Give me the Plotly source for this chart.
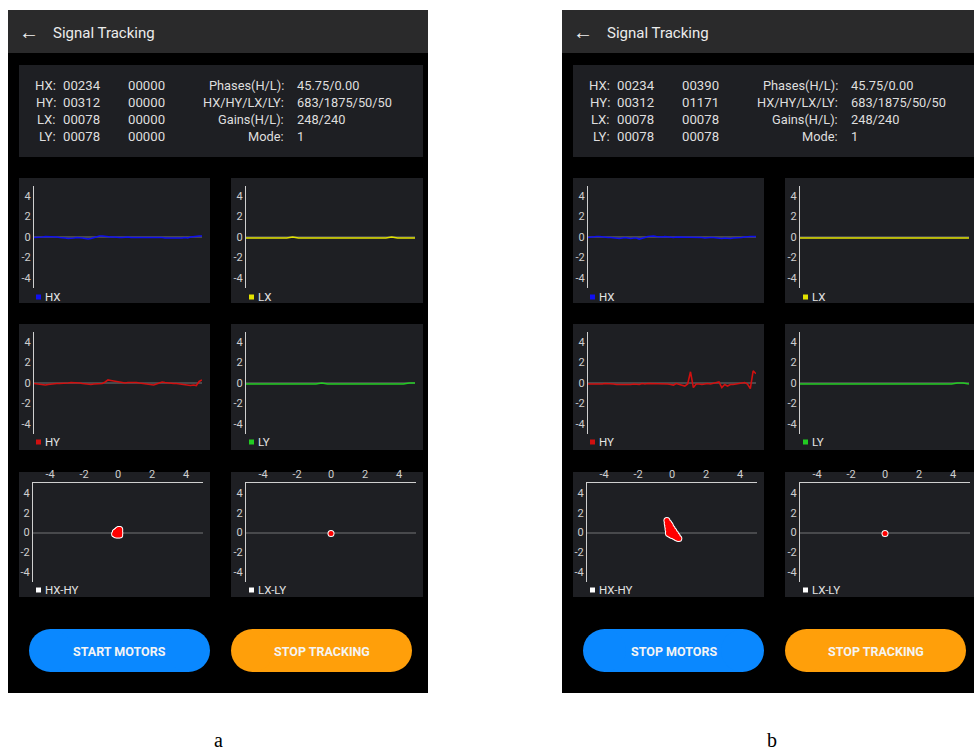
import plotly.graph_objects as go

W, H = 974, 756

# ---- values shown on the two screens ----
row_names = ["HX:", "HY:", "LX:", "LY:"]
raw_a = ["00234", "00312", "00078", "00078"]
filt_a = ["00000", "00000", "00000", "00000"]
raw_b = ["00234", "00312", "00078", "00078"]
filt_b = ["00390", "01171", "00078", "00078"]
param_names = ["Phases(H/L):", "HX/HY/LX/LY:", "Gains(H/L):", "Mode:"]
param_vals = ["45.75/0.00", "683/1875/50/50", "248/240", "1"]

tick_vals = [-4, -2, 0, 2, 4]
tick_text = ["-4", "-2", "0", "2", "4"]

hx_a = [-0.05, -0.05, 0, 0, 0.05, 0.05, 0, 0, 0, -0.05,
        -0.05, -0.1, -0.15, -0.15, -0.1, -0.05, -0.05, -0.1, -0.15, -0.2,
        -0.15, -0.05, 0.05, 0.1, 0.1, 0.05, 0.05, 0, 0, -0.05,
        -0.05, -0.05, 0, 0, -0.05, -0.05, -0.05, 0, 0, -0.05,
        -0.05, -0.05, -0.05, -0.05, -0.05, -0.05, -0.1, -0.1, -0.15, -0.15,
        -0.1, -0.15, -0.1, -0.05, -0.1, 0, 0.05, 0.1, 0.1, 0.1]
hy_a = [-0.05, -0.1, -0.1, -0.15, -0.2, -0.15, -0.1, -0.05, -0.05, -0.05,
        -0.05, -0.05, 0, 0.05, 0.05, 0.05, 0, -0.05, -0.1, -0.15,
        -0.15, -0.1, -0.1, -0.05, -0.05, 0.1, 0.3, 0.25, 0.2, 0.15,
        0.1, 0.05, 0, 0.05, 0.05, 0.1, 0.05, 0, -0.05, -0.05,
        -0.1, -0.15, -0.2, -0.1, 0, 0.1, 0.05, 0, -0.05, -0.05,
        -0.05, -0.1, -0.15, -0.2, -0.25, -0.25, -0.2, -0.25, 0.15, 0.3]
lx_a = [-0.1, -0.1, -0.1, -0.1, -0.1, -0.1, -0.1, -0.1, 0.0, -0.1,
        -0.1, -0.1, -0.1, -0.1, -0.1, -0.1, -0.1, -0.1, -0.1, -0.1,
        -0.1, -0.1, -0.1, -0.1, -0.1, 0.0, -0.1, -0.1, -0.1, -0.1]
ly_a = [-0.1, -0.1, -0.1, -0.1, -0.1, -0.1, -0.1, -0.1, -0.1, -0.1,
        -0.1, -0.1, -0.1, 0.0, -0.1, -0.1, -0.1, -0.1, -0.1, -0.1,
        -0.1, -0.1, -0.1, -0.1, -0.1, -0.1, -0.1, -0.1, 0.0, 0.0]

hx_b = [-0.05, 0, 0, 0.05, 0.05, 0, 0, -0.05, -0.05, -0.1,
        -0.1, -0.15, -0.1, -0.05, -0.1, -0.15, -0.1, -0.1, -0.2, -0.15,
        -0.05, 0.05, 0.1, 0.1, 0.05, 0, 0, 0.05, 0, -0.05,
        -0.05, 0, 0, -0.05, -0.05, 0, -0.05, -0.05, 0, -0.05,
        -0.05, -0.1, -0.05, -0.05, -0.05, -0.1, -0.1, -0.15, -0.1, -0.15,
        -0.15, -0.1, -0.1, -0.05, -0.05, 0, 0.05, 0.05, 0.05, 0.05]
hy_b = [-0.1, -0.1, -0.1, -0.15, -0.1, -0.1, -0.05, -0.05, -0.1, -0.1,
        -0.15, -0.15, -0.2, -0.2, -0.15, -0.15, -0.1, -0.1, -0.15, -0.05,
        -0.1, -0.05, -0.05, -0.1, -0.05, -0.1, -0.05, -0.1, -0.1, -0.15,
        -0.2, -0.05, -0.15, -0.2, -0.3, -0.1, 1.1, -0.45, -0.1, -0.1,
        -0.15, -0.1, -0.05, -0.1, -0.05, 0.05, 0.1, -0.45, -0.15, -0.3,
        -0.15, -0.15, -0.1, -0.05, 0.0, 0.05, -0.1, -0.55, 1.2, 0.9]
lx_b = [-0.1, -0.1, -0.1, -0.1, -0.1, -0.1, -0.1, -0.1, -0.1, -0.1,
        -0.1, -0.1, -0.1, -0.1, -0.1, -0.1, -0.1, -0.1, -0.1, -0.1,
        -0.1, -0.1, -0.1, -0.1, -0.1, -0.1, -0.1, -0.1, -0.1, -0.1]
ly_b = [-0.1, -0.1, -0.1, -0.1, -0.1, -0.1, -0.1, -0.1, -0.1, -0.1,
        -0.1, -0.1, -0.1, -0.1, -0.1, -0.1, -0.1, -0.1, -0.1, -0.1,
        -0.1, -0.1, -0.1, -0.1, -0.1, -0.1, -0.1, 0.0, 0.0, -0.1]

# HX-HY scatter of screen b (the smeared cluster)
sx_b = [-0.3, -0.2, -0.1, 0.0, 0.1, 0.2, 0.3, 0.4, -0.28, -0.25, -0.23, -0.2, -0.2,
        -0.1, 0.0, 0.1, 0.2, 0.3, -0.15, -0.1, 0.0, 0.1, -0.05, 0.2, -0.15]
sy_b = [1.2, 0.95, 0.7, 0.4, 0.15, -0.1, -0.35, -0.6, 0.9, 0.6, 0.3, 0.0, -0.1,
        -0.2, -0.3, -0.35, -0.45, -0.55, 0.5, 0.2, 0.0, -0.1, -0.1, -0.3, 0.8]
lxly_x = [0.0]
lxly_y = [-0.1]

screens = [
    dict(off=0, raw=raw_a, filt=filt_a, hx=hx_a, hy=hy_a, lx=lx_a, ly=ly_a,
         sx=hx_a, sy=hy_a, motors="START MOTORS", tag="a"),
    dict(off=554, raw=raw_b, filt=filt_b, hx=hx_b, hy=hy_b, lx=lx_b, ly=ly_b,
         sx=sx_b, sy=sy_b, motors="STOP MOTORS", tag="b"),
]

FONT = "Roboto"
TXT = "#dedede"
PANEL = "#1e1f23"


def px(x):
    return x / W


def py(y):
    return 1 - y / H


fig = go.Figure()
shapes = []
annotations = []


def rect(x0, y0, x1, y1, color):
    shapes.append(dict(type="rect", xref="paper", yref="paper", layer="below",
                       x0=px(x0), x1=px(x1), y0=py(y1), y1=py(y0),
                       fillcolor=color, line=dict(width=0)))


def pill(x0, y0, x1, y1, color):
    r = (y1 - y0) / 2
    rect(x0 + r, y0, x1 - r, y1, color)
    for cx0 in (x0, x1 - 2 * r):
        shapes.append(dict(type="circle", xref="paper", yref="paper", layer="below",
                           x0=px(cx0), x1=px(cx0 + 2 * r), y0=py(y1), y1=py(y0),
                           fillcolor=color, line=dict(width=0)))


def text(x, y, s, size=12.8, color=TXT, anchor="left", family=FONT):
    annotations.append(dict(xref="paper", yref="paper", x=px(x), y=py(y), text=s,
                            showarrow=False, xanchor=anchor, yanchor="middle",
                            font=dict(family=family, size=size, color=color)))


k = 0
layout_axes = {}


def add_axes(xdom, ydom, scatter):
    global k
    k += 1
    sfx = "" if k == 1 else str(k)
    ax = dict(family=FONT, size=11, color="#cfcfcf")
    xa = dict(domain=[px(xdom[0]), px(xdom[1])], anchor="y" + sfx, showgrid=False,
              zeroline=False, fixedrange=True)
    if scatter:
        xa.update(range=[-5, 5], side="top", showline=True, linecolor="#cfcfcf",
                  linewidth=1, tickvals=tick_vals, ticktext=tick_text, ticks="",
                  tickfont=ax)
    else:
        xa.update(showline=False, showticklabels=False, ticks="")
    ya = dict(domain=[py(ydom[1]), py(ydom[0])], anchor="x" + sfx, range=[-5, 5],
              showgrid=False, zeroline=True, zerolinecolor="#48494c", zerolinewidth=1.5,
              showline=True, linecolor="#cfcfcf", linewidth=1, tickvals=tick_vals,
              ticktext=tick_text, ticks="", tickfont=ax, fixedrange=True)
    layout_axes["xaxis" + sfx] = xa
    layout_axes["yaxis" + sfx] = ya
    return "x" + sfx, "y" + sfx


for sc in screens:
    o = sc["off"]
    # phone screen, header, info box
    rect(8 + o, 10, 428 + o, 693, "#000000")
    rect(8 + o, 10, 428 + o, 53, "#2a2a2b")
    text(29 + o, 32, "←", size=20, color="#f0f0f0", anchor="center")
    text(51 + o, 33, "Signal Tracking", size=15, color="#ececec")
    rect(19 + o, 65, 423 + o, 157, PANEL)
    for i in range(4):
        yy = 85 + i * 17.3
        text(58 + o, yy, row_names[i], size=13.2, anchor="right")
        text(61 + o, yy, sc["raw"][i], size=13.2)
        text(126 + o, yy, sc["filt"][i], size=13.2)
        text(286 + o, yy, param_names[i], anchor="right")
        text(295 + o, yy, param_vals[i])

    # chart panels
    rows = [(178, 303, 186, 288, 297), (324, 450, 332, 434, 442), (472, 597, 484, 582, 590)]
    cols = [(19, 210, 34, 202, 33, 203, 38.5, 44), (231, 423, 246, 415, 246, 416, 251.5, 257)]
    series = [[(sc["hx"], "#1010f0", "HX"), (sc["lx"], "#e2e200", "LX")],
              [(sc["hy"], "#d01010", "HY"), (sc["ly"], "#22cc22", "LY")]]
    for r, (pt, pb, at, ab, ly) in enumerate(rows):
        for c, (cx0, cx1, lx0, lx1, sx0, sx1, lgx, ltx) in enumerate(cols):
            rect(cx0 + o, pt, cx1 + o, pb, PANEL)
            if r < 2:
                vals, color, name = series[r][c]
                xr, yr = add_axes((lx0 + o, lx1 + o), (at, ab), False)
                layout_axes["xaxis" + xr[1:]]["range"] = [0, len(vals) - 1]
                fig.add_trace(go.Scatter(x=list(range(len(vals))), y=vals, mode="lines",
                                         line=dict(color=color, width=1.6),
                                         xaxis=xr, yaxis=yr, hoverinfo="skip"))
            else:
                color = "#ffffff"
                if c == 0:
                    xs, ys, name = sc["sx"], sc["sy"], "HX-HY"
                else:
                    xs, ys, name = lxly_x, lxly_y, "LX-LY"
                xr, yr = add_axes((sx0 + o, sx1 + o), (at - 1, ab), True)
                fig.add_trace(go.Scatter(x=xs, y=ys, mode="markers",
                                         marker=dict(color="#ffffff", size=7),
                                         xaxis=xr, yaxis=yr, hoverinfo="skip"))
                fig.add_trace(go.Scatter(x=xs, y=ys, mode="markers",
                                         marker=dict(color="#ff0000", size=5),
                                         xaxis=xr, yaxis=yr, hoverinfo="skip"))
            shapes.append(dict(type="rect", xref="paper", yref="paper",
                               x0=px(lgx - 2.5 + o), x1=px(lgx + 2.5 + o),
                               y0=py(ly + 2.5), y1=py(ly - 2.5),
                               fillcolor=color, line=dict(width=0)))
            text(ltx + o - 1, ly, name, size=11.5, color="#e4e4e4")

    # buttons
    pill(29 + o, 629, 210 + o, 672, "#0a88ff")
    pill(231 + o, 629, 412 + o, 672, "#ff9f0a")
    text(119.5 + o, 651, "<b>" + sc["motors"] + "</b>", size=12.5, color="#f4f4f4", anchor="center")
    text(321.5 + o, 651, "<b>STOP TRACKING</b>", size=12.5, color="#f4f4f4", anchor="center")

    # caption
    text(218 + o, 740, sc["tag"], size=20, color="#000000", anchor="center",
         family="Liberation Serif")

fig.update_layout(width=W, height=H, margin=dict(l=0, r=0, t=0, b=0),
                  paper_bgcolor="#ffffff", plot_bgcolor="rgba(0,0,0,0)",
                  showlegend=False, shapes=shapes, annotations=annotations,
                  **layout_axes)

fig.write_html("out.html", config={"displayModeBar": False},
               post_script="document.body.style.margin='0px';")
